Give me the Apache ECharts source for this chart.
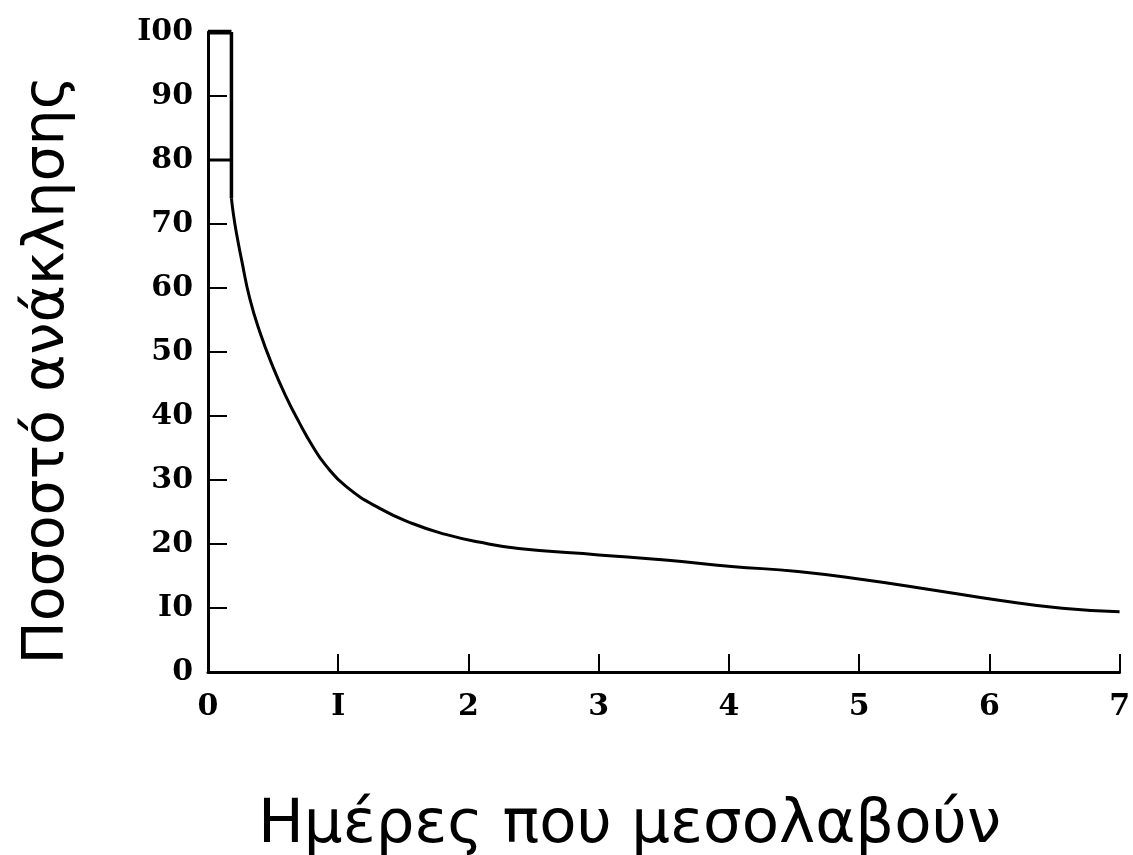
<!DOCTYPE html>
<html>
<head>
<meta charset="utf-8">
<script src="https://cdn.jsdelivr.net/npm/echarts@6/dist/echarts.min.js"></script>
<style>
html,body{margin:0;padding:0;background:#fff;}
#chart{width:1133px;height:855px;}
</style>
</head>
<body>
<div id="chart"></div>
<script>
// Data
const xTicks = [0, 1, 2, 3, 4, 5, 6, 7];
const yTicks = [0, 10, 20, 30, 40, 50, 60, 70, 80, 90, 100];
const xTickLabels = ['0', 'I', '2', '3', '4', '5', '6', '7'];
const yTickLabels = ['0', 'I0', '20', '30', '40', '50', '60', '70', '80', '90', 'I00'];
const boxTop = [[0, 100], [0.18, 100]];
const boxBottom = [[0, 80], [0.18, 80]];
const curveDays = [0.18, 0.18, 0.194, 0.219, 0.258, 0.32, 0.40, 0.50, 0.60, 0.70, 0.80, 0.90, 1.06, 1.315, 1.57, 1.825, 2.08, 2.385, 3.0, 3.51, 4.02, 4.53, 5.04, 5.54, 6.06, 6.56, 7.0];
const curveRecall = [100, 74, 71.7, 68.5, 64.4, 58.4, 53, 47.6, 43, 39, 35.4, 32.4, 29, 25.6, 23.2, 21.5, 20.3, 19.3, 18.3, 17.5, 16.5, 15.7, 14.4, 12.9, 11.25, 9.95, 9.4];
const xName = 'Ημέρες που μεσολαβούν';
const yName = 'Ποσοστό ανάκλησης';

const curve = curveDays.map((d, i) => [d, curveRecall[i]]);
const chart = echarts.init(document.getElementById('chart'));
const tickFont = {fontFamily: 'DejaVu Serif', fontSize: 30, fontWeight: 'bold', color: '#000'};
const lineSeries = (data, width, smooth) => ({
  type: 'line', data: data, symbol: 'none', smooth: smooth || false, animation: false,
  lineStyle: {color: '#000', width: width}
});
chart.setOption({
  animation: false,
  backgroundColor: '#fff',
  grid: {left: 208, right: 9, top: 32, bottom: 183},
  xAxis: {
    type: 'value', min: 0, max: 7, interval: 1,
    axisLine: {show: true, lineStyle: {color: '#000', width: 3}},
    axisTick: {show: true, inside: true, length: 18, lineStyle: {color: '#000', width: 2}},
    axisLabel: Object.assign({margin: 20, formatter: v => xTickLabels[xTicks.indexOf(v)] ?? ''}, tickFont),
    splitLine: {show: false}
  },
  yAxis: {
    type: 'value', min: 0, max: 100, interval: 10,
    axisLine: {show: true, lineStyle: {color: '#000', width: 3}},
    axisTick: {show: true, inside: true, length: 19, lineStyle: {color: '#000', width: 2}},
    axisLabel: Object.assign({margin: 15, formatter: v => yTickLabels[yTicks.indexOf(v)] ?? ''}, tickFont),
    splitLine: {show: false}
  },
  graphic: [{
    type: 'text', left: 258, top: 796,
    style: {text: xName, font: '61px "DejaVu Sans"', fill: '#000'}
  }, {
    type: 'text', x: 48, y: 370, rotation: Math.PI / 2,
    style: {text: yName, font: '57px "DejaVu Sans"', fill: '#000', align: 'center', verticalAlign: 'middle'}
  }],
  series: [
    lineSeries(curve.slice(0, 2), 3.5),
    lineSeries(curve.slice(1), 3, 0.5),
    lineSeries(boxTop, 5),
    lineSeries(boxBottom, 3)
  ]
});
</script>
</body>
</html>
